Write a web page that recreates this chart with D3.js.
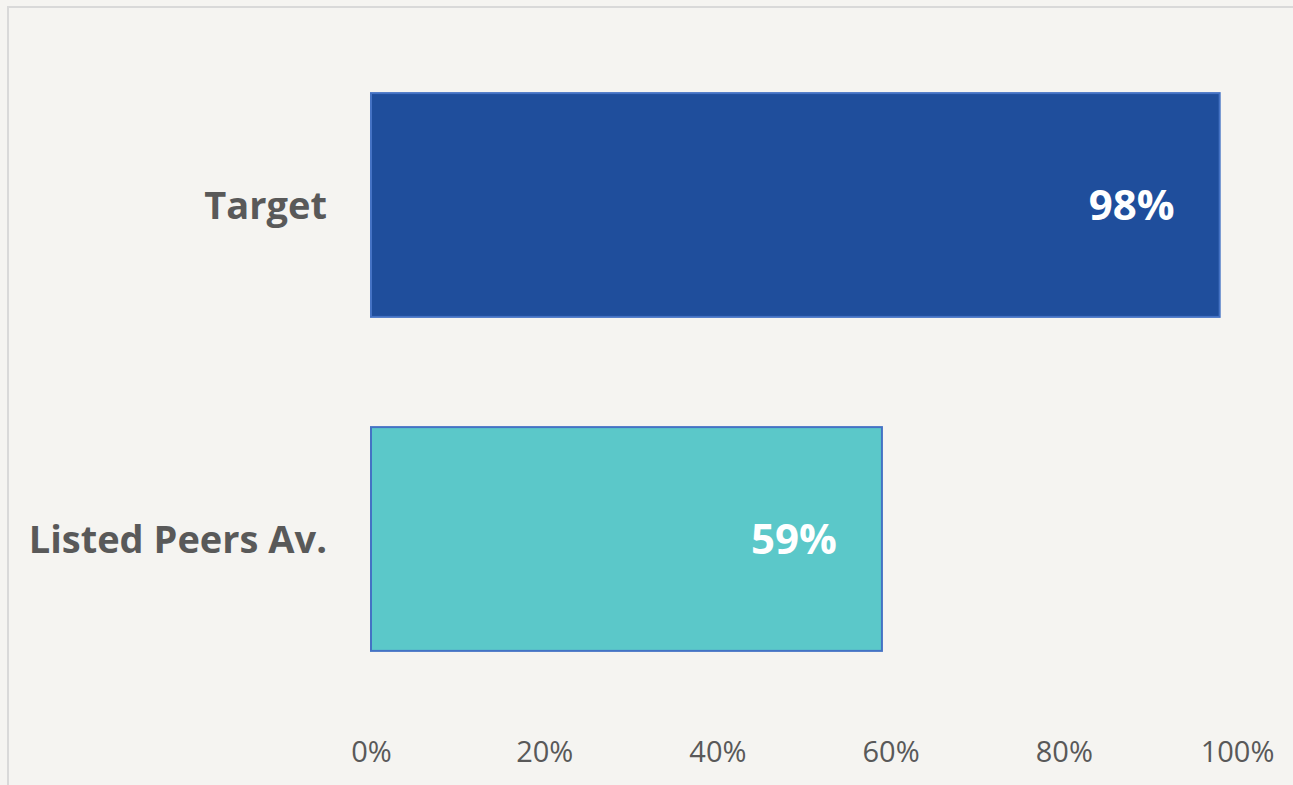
<!DOCTYPE html>
<html>
<head>
<meta charset="utf-8">
<script src="https://cdn.jsdelivr.net/npm/d3@7"></script>
<style>
  html, body { margin: 0; padding: 0; background: #f5f4f1; }
  svg { display: block; }
</style>
</head>
<body>
<script>
// Share of the target vs. listed peer average
const categories = ["Target", "Listed Peers Av."];
const values = [0.98, 0.59];
const barColors = ["#1f4e9c", "#5bc8c9"];
const tickValues = [0, 0.2, 0.4, 0.6, 0.8, 1.0];

const W = 1293, H = 785;
const font = "'Open Sans', Lato, sans-serif";

const svg = d3.select("body").append("svg")
  .attr("width", W).attr("height", H);

svg.append("rect").attr("width", W).attr("height", H).attr("fill", "#f5f4f1");

// chart frame (top and left edges visible)
svg.append("path")
  .attr("d", `M8,${H + 5}V7H${W + 5}`)
  .attr("fill", "none")
  .attr("stroke", "#d9d9d9")
  .attr("stroke-width", 2);

const x = d3.scaleLinear().domain([0, 1]).range([371, 1237]);
const y = d3.scaleBand().domain(categories).range([38, 706]).paddingInner(0.33).paddingOuter(0.165);

const bars = svg.append("g");
bars.selectAll("rect").data(categories).join("rect")
  .attr("x", x(0))
  .attr("y", d => y(d))
  .attr("width", (d, i) => x(values[i]) - x(0))
  .attr("height", y.bandwidth())
  .attr("fill", (d, i) => barColors[i])
  .attr("stroke", "#4472c4")
  .attr("stroke-width", 2);

// value labels inside bar ends
svg.append("g").selectAll("text").data(categories).join("text")
  .attr("x", (d, i) => x(values[i]) - 45)
  .attr("y", d => y(d) + y.bandwidth() / 2)
  .attr("dy", "0.36em")
  .attr("text-anchor", "end")
  .attr("fill", "#ffffff")
  .attr("font-family", font)
  .attr("font-weight", "bold")
  .attr("font-size", 42)
  .text((d, i) => d3.format(".0%")(values[i]));

// category axis
const yAxis = d3.axisLeft(y).tickSize(0).tickPadding(44);
const gy = svg.append("g").attr("transform", `translate(${x(0)},0)`).call(yAxis);
gy.select(".domain").remove();
gy.selectAll("text")
  .attr("dy", "0.36em")
  .attr("fill", "#595959")
  .attr("font-family", font)
  .attr("font-weight", "bold")
  .attr("font-size", 38);

// value axis
const xAxis = d3.axisBottom(x).tickValues(tickValues).tickFormat(d3.format(".0%")).tickSize(0).tickPadding(0);
const gx = svg.append("g").attr("transform", `translate(0,762)`).call(xAxis);
gx.select(".domain").remove();
gx.selectAll("text")
  .attr("y", 0)
  .attr("dy", 0)
  .attr("fill", "#595959")
  .attr("font-family", font)
  .attr("font-size", 29);
</script>
</body>
</html>
